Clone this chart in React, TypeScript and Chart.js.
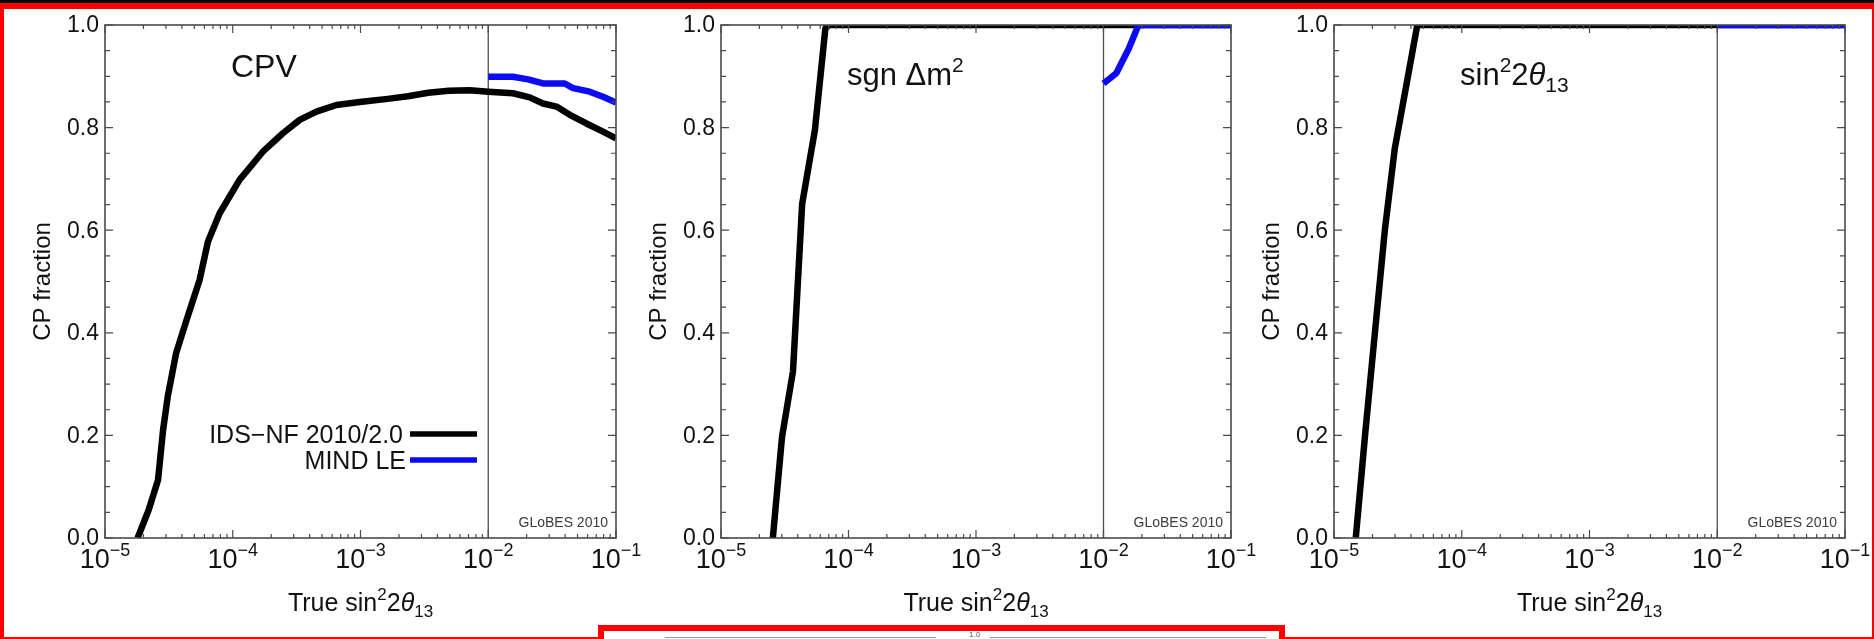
import React, { useEffect, useRef } from "react";
import { Chart, registerables } from "chart.js";

Chart.register(...registerables);

// ---------------- data ----------------
const xMin = 1e-5;
const xMax = 1e-1;
const xDecadeExponents = [-5, -4, -3, -2, -1];
const yTickValues = [0, 0.2, 0.4, 0.6, 0.8, 1.0];
const yTickLabels = ["0.0", "0.2", "0.4", "0.6", "0.8", "1.0"];
const dividerValue = 1e-2;
const seriesNames = ["IDS\u2212NF 2010/2.0", "MIND LE"];
const seriesColors = ["#000000", "#0b0bf5"];
const watermark = "GLoBES 2010";
const yAxisTitle = "CP fraction";

// CPV panel
const cpvIdsX = [1.8e-5, 2.2e-5, 2.6e-5, 2.85e-5, 3.1e-5, 3.6e-5, 4.35e-5, 5.5e-5, 6.4e-5, 7.9e-5, 1.13e-4, 1.72e-4, 2.47e-4, 3.34e-4, 4.52e-4, 6.48e-4, 9.86e-4, 1.63e-3, 2.35e-3, 3.39e-3, 4.9e-3, 7.16e-3, 1.0e-2, 1.56e-2, 2.11e-2, 2.68e-2, 3.42e-2, 4.35e-2, 5.86e-2, 7.91e-2, 1.0e-1];
const cpvIdsY = [0.0, 0.055, 0.113, 0.211, 0.276, 0.36, 0.425, 0.503, 0.578, 0.633, 0.698, 0.753, 0.789, 0.815, 0.831, 0.844, 0.85, 0.856, 0.861, 0.868, 0.872, 0.873, 0.87, 0.867, 0.859, 0.847, 0.841, 0.825, 0.808, 0.792, 0.779];
const cpvMindX = [0.01, 0.0156, 0.0205, 0.0268, 0.0397, 0.0461, 0.0622, 0.0791, 0.1];
const cpvMindY = [0.899, 0.899, 0.894, 0.886, 0.886, 0.877, 0.87, 0.86, 0.849];

// sgn dm^2 panel
const sgnIdsX = [2.55e-5, 3.01e-5, 3.67e-5, 4.33e-5, 5.45e-5, 6.59e-5, 7.1e-5, 0.1];
const sgnIdsY = [0.0, 0.197, 0.325, 0.651, 0.795, 0.994, 1.0, 1.0];
const sgnMindX = [0.01, 0.0126, 0.0158, 0.0188, 0.1];
const sgnMindY = [0.886, 0.906, 0.954, 1.0, 1.0];

// sin^2 2theta13 panel
const th13IdsX = [1.48e-5, 1.75e-5, 2.09e-5, 2.5e-5, 2.99e-5, 4.49e-5, 0.1];
const th13IdsY = [0.0, 0.2, 0.4, 0.6, 0.759, 1.0, 1.0];
const th13MindX = [0.01, 0.1];
const th13MindY = [1.0, 1.0];

// ---------------- layout / style ----------------
const FONT = '"Liberation Sans", Arial, Helvetica, sans-serif';
const TEXT = "#121212";
const AXIS = "#4a4a4a";
const CANVAS_W = 660;
const CANVAS_H = 639;
const PAD_LEFT = 105;
const PLOT_TOP = 25;
const PLOT_BOTTOM = 538;
const PLOT_LEFT = [105, 721, 1334];
const PLOT_W = [511, 510, 511];

type Run = { t: string; size: number; dy?: number; italic?: boolean };

const panelTitles: Run[][] = [
  [{ t: "CPV", size: 32 }],
  [{ t: "sgn \u0394m", size: 31 }, { t: "2", size: 21, dy: -13 }],
  [
    { t: "sin", size: 31 },
    { t: "2", size: 21, dy: -13 },
    { t: "2", size: 31 },
    { t: "\u03b8", size: 31, italic: true },
    { t: "13", size: 21, dy: 7 },
  ],
];
const panelTitleBaseline = [77, 85, 85];

const xTitleRuns: Run[] = [
  { t: "True sin", size: 25 },
  { t: "2", size: 17, dy: -11 },
  { t: "2", size: 25 },
  { t: "\u03b8", size: 25, italic: true },
  { t: "13", size: 17, dy: 6 },
];

const panelSeries = [
  [cpvIdsX, cpvIdsY, cpvMindX, cpvMindY],
  [sgnIdsX, sgnIdsY, sgnMindX, sgnMindY],
  [th13IdsX, th13IdsY, th13MindX, th13MindY],
];

function fontOf(r: Run) {
  return `${r.italic ? "italic " : ""}${r.size}px ${FONT}`;
}

function drawRuns(ctx: CanvasRenderingContext2D, runs: Run[], x: number, y: number, align: "left" | "center" | "right") {
  let total = 0;
  const widths = runs.map((r) => {
    ctx.font = fontOf(r);
    const w = ctx.measureText(r.t).width;
    total += w;
    return w;
  });
  let cx = align === "center" ? x - total / 2 : align === "right" ? x - total : x;
  ctx.textAlign = "left";
  ctx.textBaseline = "alphabetic";
  runs.forEach((r, i) => {
    ctx.font = fontOf(r);
    ctx.fillText(r.t, cx, y + (r.dy || 0));
    cx += widths[i];
  });
}

function toPoints(xs: number[], ys: number[]) {
  return xs.map((x, i) => ({ x, y: ys[i] }));
}

function decorPlugin(p: number) {
  return {
    id: "decor" + p,
    beforeDatasetsDraw(chart: any) {
      const { ctx, chartArea: a, scales } = chart;
      const xd = scales.x.getPixelForValue(dividerValue);
      ctx.save();
      ctx.strokeStyle = "#505050";
      ctx.lineWidth = 1.3;
      ctx.beginPath();
      ctx.moveTo(xd, a.top);
      ctx.lineTo(xd, a.bottom);
      ctx.stroke();
      ctx.restore();
    },
    afterDatasetsDraw(chart: any) {
      const { ctx, chartArea: a, scales } = chart;
      const xs = scales.x;
      const ys = scales.y;
      ctx.save();
      // ticks
      ctx.strokeStyle = AXIS;
      ctx.lineWidth = 1.2;
      ctx.beginPath();
      for (let k = 0; k <= 20; k++) {
        const v = k * 0.05;
        const y = ys.getPixelForValue(v);
        const len = k % 4 === 0 ? 8 : 5;
        ctx.moveTo(a.left, y);
        ctx.lineTo(a.left + len, y);
        ctx.moveTo(a.right, y);
        ctx.lineTo(a.right - len, y);
      }
      for (const e of xDecadeExponents) {
        for (let m = 1; m <= 9; m++) {
          const v = m * Math.pow(10, e);
          if (v > xMax * 1.0001) break;
          const x = xs.getPixelForValue(v);
          const len = m === 1 ? 8 : 4;
          ctx.moveTo(x, a.bottom);
          ctx.lineTo(x, a.bottom - len);
          ctx.moveTo(x, a.top);
          ctx.lineTo(x, a.top + len);
        }
      }
      ctx.stroke();
      // frame
      ctx.lineWidth = 1.6;
      ctx.strokeRect(a.left, a.top, a.right - a.left, a.bottom - a.top);

      ctx.fillStyle = TEXT;
      // y tick labels
      ctx.font = `23px ${FONT}`;
      ctx.textAlign = "right";
      ctx.textBaseline = "middle";
      yTickValues.forEach((v, i) => {
        ctx.fillText(yTickLabels[i], a.left - 6, ys.getPixelForValue(v) + 1);
      });
      // x tick labels
      for (const e of xDecadeExponents) {
        const x = xs.getPixelForValue(Math.pow(10, e));
        drawRuns(
          ctx,
          [
            { t: "10", size: 27 },
            { t: "\u2212" + Math.abs(e), size: 18, dy: -12 },
          ],
          x,
          568,
          "center"
        );
      }
      // axis titles
      drawRuns(ctx, xTitleRuns, (a.left + a.right) / 2, 611, "center");
      ctx.save();
      ctx.translate(a.left - 55, (a.top + a.bottom) / 2);
      ctx.rotate(-Math.PI / 2);
      ctx.font = `24px ${FONT}`;
      ctx.textAlign = "center";
      ctx.textBaseline = "alphabetic";
      ctx.fillText(yAxisTitle, 0, 0);
      ctx.restore();

      // panel title
      drawRuns(ctx, panelTitles[p], a.left + 126, panelTitleBaseline[p], "left");

      // watermark
      ctx.fillStyle = "#3c3c3c";
      ctx.font = `14px ${FONT}`;
      ctx.textAlign = "right";
      ctx.textBaseline = "alphabetic";
      ctx.fillText(watermark, a.right - 8, a.bottom - 11);

      // legend (first panel)
      if (p === 0) {
        const ly = [434, 460];
        const textRight = [a.left + 298, a.left + 301];
        chart.data.datasets.forEach((ds: any, i: number) => {
          ctx.fillStyle = TEXT;
          ctx.font = `25px ${FONT}`;
          ctx.textAlign = "right";
          ctx.textBaseline = "alphabetic";
          ctx.fillText(seriesNames[i], textRight[i], ly[i] + 9);
          ctx.strokeStyle = ds.borderColor;
          ctx.lineWidth = 5.5;
          ctx.beginPath();
          ctx.moveTo(a.left + 305, ly[i]);
          ctx.lineTo(a.left + 372, ly[i]);
          ctx.stroke();
        });
      }
      ctx.restore();
    },
  };
}

function Panel({ p }: { p: number }) {
  const ref = useRef<HTMLCanvasElement | null>(null);
  useEffect(() => {
    if (!ref.current) return;
    const [ix, iy, mx, my] = panelSeries[p];
    const chart = new Chart(ref.current, {
      type: "scatter",
      data: {
        datasets: [
          {
            label: seriesNames[0],
            data: toPoints(ix, iy),
            borderColor: seriesColors[0],
            backgroundColor: seriesColors[0],
            borderWidth: 6.5,
            showLine: true,
            pointRadius: 0,
            tension: 0,
            borderJoinStyle: "round",
            clip: 0,
            order: 1,
          } as any,
          {
            label: seriesNames[1],
            data: toPoints(mx, my),
            borderColor: seriesColors[1],
            backgroundColor: seriesColors[1],
            borderWidth: 6.5,
            showLine: true,
            pointRadius: 0,
            tension: 0,
            borderJoinStyle: "round",
            clip: 0,
            order: 0,
          } as any,
        ],
      },
      options: {
        responsive: false,
        maintainAspectRatio: false,
        animation: false,
        devicePixelRatio: 1,
        events: [],
        layout: {
          padding: {
            left: PAD_LEFT,
            top: PLOT_TOP,
            right: CANVAS_W - PAD_LEFT - PLOT_W[p],
            bottom: CANVAS_H - PLOT_BOTTOM,
          },
        },
        plugins: { legend: { display: false }, tooltip: { enabled: false } },
        scales: {
          x: { type: "logarithmic", min: xMin, max: xMax, display: false },
          y: { type: "linear", min: 0, max: 1, display: false },
        },
      },
      plugins: [decorPlugin(p)],
    });
    return () => chart.destroy();
  }, [p]);
  return (
    <canvas
      ref={ref}
      width={CANVAS_W}
      height={CANVAS_H}
      style={{ position: "absolute", left: PLOT_LEFT[p] - PAD_LEFT, top: 0, width: CANVAS_W, height: CANVAS_H }}
    />
  );
}

const red = "#ff0000";

export default function App() {
  return (
    <div
      style={{
        position: "absolute",
        left: 0,
        top: 0,
        width: 1874,
        height: 639,
        overflow: "hidden",
        background: "#ffffff",
      }}
    >
      <Panel p={0} />
      <Panel p={1} />
      <Panel p={2} />
      {/* frame */}
      <div style={{ position: "absolute", left: 0, top: 0, width: 1874, height: 3, background: "#000" }} />
      <div style={{ position: "absolute", left: 0, top: 3, width: 1874, height: 6, background: red }} />
      <div style={{ position: "absolute", left: 0, top: 3, width: 4, height: 636, background: red }} />
      <div style={{ position: "absolute", left: 1872, top: 3, width: 2, height: 636, background: red }} />
      <div style={{ position: "absolute", left: 0, top: 637, width: 604, height: 2, background: red }} />
      <div style={{ position: "absolute", left: 1279, top: 637, width: 595, height: 2, background: red }} />
      <div
        style={{
          position: "absolute",
          left: 598,
          top: 625,
          width: 675,
          height: 20,
          borderTop: `6px solid ${red}`,
          borderLeft: `6px solid ${red}`,
          borderRight: `6px solid ${red}`,
          background: "#fff",
        }}
      >
        <div style={{ position: "absolute", left: 61, top: 6, width: 271, height: 1, background: "#9a9a9a" }} />
        <div
          style={{
            position: "absolute",
            left: 365,
            top: 0,
            fontFamily: FONT,
            fontSize: 8,
            lineHeight: "8px",
            color: "#555",
          }}
        >
          1.0
        </div>
        <div style={{ position: "absolute", left: 386, top: 6, width: 276, height: 1, background: "#9a9a9a" }} />
      </div>
    </div>
  );
}
